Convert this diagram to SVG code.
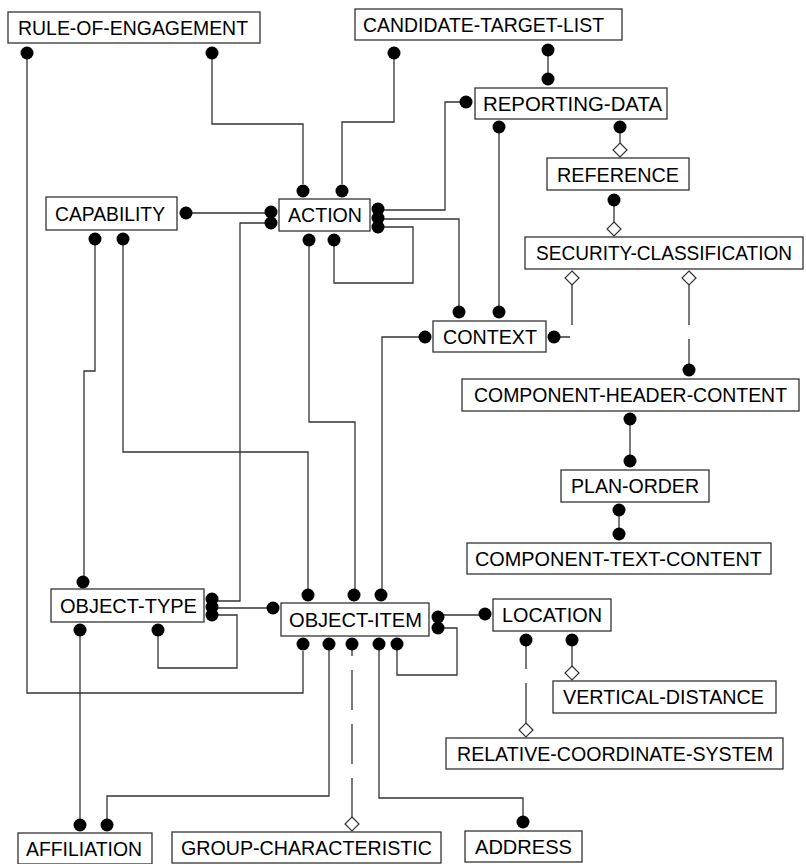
<svg xmlns="http://www.w3.org/2000/svg" width="806" height="864" viewBox="0 0 806 864">
<style>
rect.box{fill:#fff;stroke:#333;stroke-width:1.3}
text{font-family:"Liberation Sans",Arial,sans-serif;font-size:21px;fill:#000;text-anchor:middle}
text.sm{font-size:19.5px}
.ln{fill:none;stroke:#333;stroke-width:1.3}
.dash{stroke-dasharray:40,14}
.dot{fill:#000}
.dia{fill:#fff;stroke:#333;stroke-width:1.2}
</style>
<rect width="806" height="864" fill="#fff"/>
<g id="connectors">
<path class="ln" d="M27,59 V693 H303 V651"/>
<path class="ln" d="M212,59 V124 H303 V184"/>
<path class="ln" d="M394,59 V122 H342 V184"/>
<path class="ln" d="M548,56 V73"/>
<path class="ln" d="M466,102 H445 V210 H378"/>
<path class="ln" d="M378,219 H459 V312"/>
<path class="ln" d="M499,127 V312"/>
<path class="ln" d="M378,227 H413 V283 H334 V240"/>
<path class="ln" d="M620,133 V143"/>
<path class="ln" d="M614,206 V222"/>
<path class="ln dash" d="M572,285 V337 H554"/>
<path class="ln dash" d="M689,285 V370"/>
<path class="ln" d="M630,425 V455"/>
<path class="ln" d="M619,516 V528"/>
<path class="ln" d="M186,213 H270"/>
<path class="ln" d="M270,223 H240 V601 H212"/>
<path class="ln" d="M95,239 V371 H84 V582"/>
<path class="ln" d="M123,239 V452 H308 V595"/>
<path class="ln" d="M309,240 V422 H355 V595"/>
<path class="ln" d="M425,337 H382 V595"/>
<path class="ln" d="M212,608 H273"/>
<path class="ln" d="M212,615 H237 V668 H158 V630"/>
<path class="ln" d="M80,630 V825"/>
<path class="ln" d="M329,644 V796 H107 V825"/>
<path class="ln dash" style="stroke-dashoffset:28" d="M352,644 V817"/>
<path class="ln" d="M379,644 V798 H523 V822"/>
<path class="ln" d="M397,644 V675 H457 V628 H438"/>
<path class="ln" d="M438,615 H485"/>
<path class="ln dash" style="stroke-dashoffset:11" d="M526,640 V723"/>
<path class="ln" d="M572,640 V666"/>
<g class="dot">
<circle cx="27" cy="53" r="6.5"/><circle cx="212" cy="53" r="6.5"/>
<circle cx="394" cy="53" r="6.5"/><circle cx="548" cy="50" r="6.5"/>
<circle cx="548" cy="79" r="6.5"/><circle cx="466" cy="102" r="6.5"/>
<circle cx="499" cy="127" r="6.5"/><circle cx="620" cy="127" r="6.5"/>
<circle cx="614" cy="200" r="6.5"/>
<circle cx="459" cy="312" r="6.5"/><circle cx="499" cy="312" r="6.5"/>
<circle cx="425" cy="337" r="6.5"/><circle cx="554" cy="337" r="6.5"/>
<circle cx="689" cy="370" r="6.5"/><circle cx="630" cy="419" r="6.5"/>
<circle cx="630" cy="461" r="6.5"/><circle cx="619" cy="510" r="6.5"/>
<circle cx="619" cy="534" r="6.5"/>
<circle cx="186" cy="213" r="6.5"/><circle cx="95" cy="239" r="6.5"/><circle cx="123" cy="239" r="6.5"/>
<circle cx="303" cy="191" r="6.5"/><circle cx="342" cy="191" r="6.5"/>
<circle cx="271" cy="212" r="6.5"/><circle cx="271" cy="223" r="6.5"/>
<circle cx="378" cy="209" r="6.5"/><circle cx="378" cy="218" r="6.5"/><circle cx="378" cy="227" r="6.5"/>
<circle cx="309" cy="240" r="6.5"/><circle cx="334" cy="240" r="6.5"/>
<circle cx="83" cy="582" r="6.5"/>
<circle cx="212" cy="599" r="6.5"/><circle cx="212" cy="607" r="6.5"/><circle cx="212" cy="615" r="6.5"/>
<circle cx="80" cy="630" r="6.5"/><circle cx="158" cy="630" r="6.5"/>
<circle cx="308" cy="595" r="6.5"/><circle cx="354" cy="595" r="6.5"/><circle cx="381" cy="595" r="6.5"/>
<circle cx="273" cy="608" r="6.5"/>
<circle cx="438" cy="617" r="6.5"/><circle cx="438" cy="628" r="6.5"/>
<circle cx="303" cy="644" r="6.5"/><circle cx="329" cy="644" r="6.5"/><circle cx="352" cy="644" r="6.5"/><circle cx="379" cy="644" r="6.5"/><circle cx="397" cy="644" r="6.5"/>
<circle cx="485" cy="614" r="6.5"/>
<circle cx="526" cy="640" r="6.5"/><circle cx="572" cy="640" r="6.5"/>
<circle cx="523" cy="822" r="6.5"/>
<circle cx="80" cy="825" r="6.5"/><circle cx="107" cy="825" r="6.5"/>
</g>
<g class="dia">
<path d="M620,143 l7,7 l-7,7 l-7,-7 z"/>
<path d="M614,222 l7,7 l-7,7 l-7,-7 z"/>
<path d="M572,271 l7,7 l-7,7 l-7,-7 z"/>
<path d="M689,271 l7,7 l-7,7 l-7,-7 z"/>
<path d="M572,666 l7,7 l-7,7 l-7,-7 z"/>
<path d="M526,723 l7,7 l-7,7 l-7,-7 z"/>
<path d="M352,817 l7,7 l-7,7 l-7,-7 z"/>
</g>
</g>
<g id="rule-of-engagement"><rect class="box" x="8" y="12" width="252" height="31"/><text x="133" y="35" textLength="230" lengthAdjust="spacingAndGlyphs">RULE-OF-ENGAGEMENT</text></g>
<g id="candidate-target-list"><rect class="box" x="355" y="9" width="267" height="31"/><text x="483.5" y="32" textLength="241" lengthAdjust="spacingAndGlyphs">CANDIDATE-TARGET-LIST</text></g>
<g id="reporting-data"><rect class="box" x="475" y="88" width="192" height="31"/><text x="572.5" y="111" textLength="179" lengthAdjust="spacingAndGlyphs">REPORTING-DATA</text></g>
<g id="reference"><rect class="box" x="547" y="158" width="142" height="32"/><text x="618" y="182" textLength="122" lengthAdjust="spacingAndGlyphs">REFERENCE</text></g>
<g id="security-classification"><rect class="box" x="525" y="237" width="278" height="32"/><text class="sm" x="664" y="260" textLength="256" lengthAdjust="spacingAndGlyphs">SECURITY-CLASSIFICATION</text></g>
<g id="context"><rect class="box" x="433" y="321" width="113" height="31"/><text x="490" y="344" textLength="94" lengthAdjust="spacingAndGlyphs">CONTEXT</text></g>
<g id="component-header-content"><rect class="box" x="462" y="379" width="337" height="32"/><text class="sm" x="630.5" y="402" textLength="313" lengthAdjust="spacingAndGlyphs">COMPONENT-HEADER-CONTENT</text></g>
<g id="plan-order"><rect class="box" x="561" y="470" width="148" height="32"/><text x="635" y="493" textLength="128" lengthAdjust="spacingAndGlyphs">PLAN-ORDER</text></g>
<g id="component-text-content"><rect class="box" x="467" y="543" width="304" height="31"/><text x="618.5" y="566" textLength="287" lengthAdjust="spacingAndGlyphs">COMPONENT-TEXT-CONTENT</text></g>
<g id="capability"><rect class="box" x="46" y="197" width="131" height="33"/><text x="110" y="221" textLength="110" lengthAdjust="spacingAndGlyphs">CAPABILITY</text></g>
<g id="action"><rect class="box" x="279" y="199" width="91" height="32"/><text x="325" y="222" textLength="74" lengthAdjust="spacingAndGlyphs">ACTION</text></g>
<g id="object-type"><rect class="box" x="51" y="589" width="153" height="33"/><text x="128.5" y="613" textLength="137" lengthAdjust="spacingAndGlyphs">OBJECT-TYPE</text></g>
<g id="object-item"><rect class="box" x="281" y="603" width="148" height="33"/><text x="355.5" y="627" textLength="133" lengthAdjust="spacingAndGlyphs">OBJECT-ITEM</text></g>
<g id="location"><rect class="box" x="493" y="599" width="118" height="32"/><text x="552" y="622" textLength="100" lengthAdjust="spacingAndGlyphs">LOCATION</text></g>
<g id="vertical-distance"><rect class="box" x="553" y="681" width="223" height="32"/><text x="663.5" y="704" textLength="201" lengthAdjust="spacingAndGlyphs">VERTICAL-DISTANCE</text></g>
<g id="relative-coordinate-system"><rect class="box" x="446" y="738" width="337" height="31"/><text x="615" y="761" textLength="316" lengthAdjust="spacingAndGlyphs">RELATIVE-COORDINATE-SYSTEM</text></g>
<g id="affiliation"><rect class="box" x="18" y="833" width="134" height="31"/><text x="84" y="856" textLength="116" lengthAdjust="spacingAndGlyphs">AFFILIATION</text></g>
<g id="group-characteristic"><rect class="box" x="172" y="832" width="269" height="31"/><text x="306.5" y="855" textLength="251" lengthAdjust="spacingAndGlyphs">GROUP-CHARACTERISTIC</text></g>
<g id="address"><rect class="box" x="465" y="831" width="117" height="31"/><text x="523.5" y="854" textLength="97" lengthAdjust="spacingAndGlyphs">ADDRESS</text></g>
</svg>
